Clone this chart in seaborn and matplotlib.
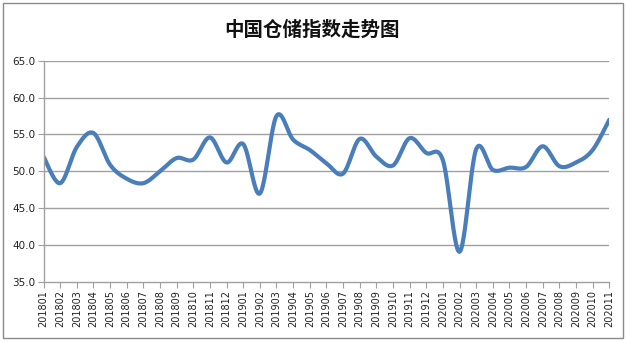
import numpy as np
import pandas as pd
import matplotlib
matplotlib.use("Agg")
import matplotlib.pyplot as plt
import seaborn as sns
from matplotlib.patches import Rectangle

# Monthly warehouse index
months = ["201801", "201802", "201803", "201804", "201805", "201806", "201807",
          "201808", "201809", "201810", "201811", "201812", "201901", "201902",
          "201903", "201904", "201905", "201906", "201907", "201908", "201909",
          "201910", "201911", "201912", "202001", "202002", "202003", "202004",
          "202005", "202006", "202007", "202008", "202009", "202010", "202011"]
index_values = [52.0, 48.4, 53.3, 55.2, 50.9, 49.0, 48.4, 50.0, 51.8, 51.6,
                54.6, 51.2, 53.7, 47.0, 57.5, 54.3, 52.9, 51.1, 49.7, 54.4,
                52.0, 50.8, 54.5, 52.5, 51.5, 39.1, 53.0, 50.2, 50.5, 50.6,
                53.4, 50.7, 51.2, 52.9, 57.0]
y_ticks = [35.0, 40.0, 45.0, 50.0, 55.0, 60.0, 65.0]
title = "中国仓储指数走势图"


def smooth(xs, ys, steps=24):
    """Cubic Bezier smoothing with Catmull-Rom control points."""
    xs = np.asarray(xs, float)
    ys = np.asarray(ys, float)
    px = np.concatenate([[xs[0]], xs, [xs[-1]]])
    py = np.concatenate([[ys[0]], ys, [ys[-1]]])
    out_x, out_y = [], []
    t = np.linspace(0, 1, steps, endpoint=False)
    for i in range(1, len(px) - 2):
        p0 = np.array([px[i], py[i]])
        p3 = np.array([px[i + 1], py[i + 1]])
        c1 = p0 + (np.array([px[i + 1], py[i + 1]]) - np.array([px[i - 1], py[i - 1]])) / 6
        c2 = p3 - (np.array([px[i + 2], py[i + 2]]) - np.array([px[i], py[i]])) / 6
        b = ((1 - t) ** 3)[:, None] * p0 + (3 * (1 - t) ** 2 * t)[:, None] * c1 \
            + (3 * (1 - t) * t ** 2)[:, None] * c2 + (t ** 3)[:, None] * p3
        out_x.extend(b[:, 0])
        out_y.extend(b[:, 1])
    out_x.append(xs[-1])
    out_y.append(ys[-1])
    return np.array(out_x), np.array(out_y)


sns.set_theme(style="white")
plt.rcParams["font.family"] = ["DejaVu Sans"]

fig = plt.figure(figsize=(6.27, 3.42), dpi=100)
ax = fig.add_axes([0.0694, 0.1754, 0.9024, 0.6471])

pos = np.arange(len(months))
sx, sy = smooth(pos, index_values)
curve = pd.DataFrame({"pos": sx, "value": sy})
sns.lineplot(data=curve, x="pos", y="value", ax=ax, color="#4A7EBB",
             linewidth=3.0, sort=False, estimator=None,
             solid_capstyle="round", solid_joinstyle="round")

ax.set_xlim(0, len(months) - 1)
ax.set_ylim(y_ticks[0], y_ticks[-1])
ax.set_yticks(y_ticks)
ax.set_yticklabels([f"{v:.1f}" for v in y_ticks], fontsize=7.5, color="#222222")
ax.set_xticks(pos)
ax.set_xticklabels(months, rotation=90, fontsize=7, color="#222222")
ax.set_xlabel("")
ax.set_ylabel("")

for v in y_ticks[1:]:
    ax.axhline(v, color="#A0A0A0", linewidth=1.0, zorder=0)

for side in ["top", "right"]:
    ax.spines[side].set_visible(False)
for side in ["left", "bottom"]:
    ax.spines[side].set_color("#A0A0A0")
    ax.spines[side].set_linewidth(1.0)
ax.tick_params(axis="both", which="both", direction="out", length=4,
               width=0.8, color="#A0A0A0", pad=2,
               left=True, bottom=True)

fig.text(0.498, 0.912, title, ha="center", va="center", fontsize=14,
         fontweight="bold", family=["Noto Sans CJK SC", "DejaVu Sans"],
         color="#111111")

# chart area frame
fig.patches.append(Rectangle((0.004, 0.012), 0.989, 0.98, transform=fig.transFigure,
                             fill=False, edgecolor="#8A8A8A", linewidth=1.0))

fig.savefig("out.png", dpi=100, facecolor="white")
